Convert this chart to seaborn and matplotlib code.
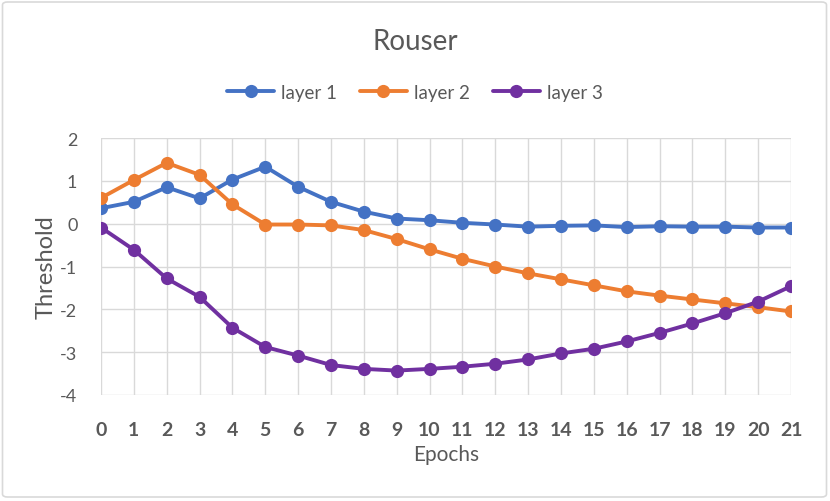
import matplotlib

matplotlib.use("Agg")

import matplotlib.pyplot as plt
import pandas as pd
import seaborn as sns
from matplotlib.patches import FancyBboxPatch

epochs = list(range(22))
layer_1 = [0.36, 0.51, 0.85, 0.59, 1.03, 1.33, 0.86, 0.51, 0.28, 0.12, 0.08,
           0.02, -0.02, -0.07, -0.05, -0.04, -0.08, -0.06, -0.07, -0.07, -0.09, -0.09]
layer_2 = [0.60, 1.02, 1.42, 1.14, 0.45, -0.02, -0.02, -0.04, -0.15, -0.36, -0.60,
           -0.82, -1.00, -1.16, -1.30, -1.44, -1.58, -1.68, -1.77, -1.86, -1.95, -2.05]
layer_3 = [-0.09, -0.61, -1.28, -1.71, -2.43, -2.88, -3.08, -3.30, -3.39, -3.43, -3.39,
           -3.34, -3.27, -3.17, -3.03, -2.92, -2.75, -2.55, -2.33, -2.09, -1.82, -1.46]
series_names = ["layer 1", "layer 2", "layer 3"]
colors = ["#4472C4", "#ED7D31", "#7030A0"]
text_color = "#595959"

df = pd.DataFrame({"Epochs": epochs, "layer 1": layer_1, "layer 2": layer_2, "layer 3": layer_3})
long_df = df.melt(id_vars="Epochs", var_name="Layer", value_name="Threshold")

sns.set_theme(style="white")
plt.rcParams["font.family"] = ["Lato", "DejaVu Sans"]
plt.rcParams["axes.unicode_minus"] = False

fig = plt.figure(figsize=(8.3, 5.02), dpi=100)
ax = fig.add_axes([101 / 830, 1 - 396 / 502, (791 - 101) / 830, (396 - 139) / 502])

sns.lineplot(
    data=long_df,
    x="Epochs",
    y="Threshold",
    hue="Layer",
    hue_order=series_names,
    palette=colors,
    marker="o",
    markersize=9.5,
    markeredgewidth=0,
    linewidth=2.8,
    ax=ax,
)

ax.set_xlim(0, 21)
ax.set_ylim(-4, 2)
ax.set_xticks(epochs)
ax.set_yticks(range(-4, 3))
ax.grid(True, color="#D9D9D9", linewidth=1)
ax.set_axisbelow(True)
for spine in ax.spines.values():
    spine.set_visible(False)
ax.tick_params(axis="both", length=0, labelcolor=text_color)
ax.tick_params(axis="x", pad=19, labelsize=14)
ax.tick_params(axis="y", pad=17, labelsize=13)
for lbl in ax.get_xticklabels():
    lbl.set_fontweight("bold")
ax.set_xlabel("Epochs", fontsize=15, color=text_color, va="center")
ax.xaxis.set_label_coords(0.5, -59 / 257)
ax.set_ylabel("Threshold", fontsize=17, color=text_color, va="center")
ax.yaxis.set_label_coords(-55 / 690, 0.5)

handles, labels = ax.get_legend_handles_labels()
leg = ax.legend(
    handles,
    labels,
    loc="center",
    ncol=3,
    frameon=False,
    fontsize=13.5,
    labelcolor=text_color,
    handlelength=2.5,
    columnspacing=1.2,
    handletextpad=0.4,
)
for h in leg.legend_handles:
    h.set_linewidth(2.8)
leg.set_bbox_to_anchor((0.5, 1 - 93 / 502), transform=fig.transFigure)

fig.text(0.5, 1 - 42 / 502, "Rouser", ha="center", va="center", fontsize=20, color=text_color)

fig.patches.append(
    FancyBboxPatch(
        (2.5 / 830, 4 / 502),
        824 / 830,
        495 / 502,
        boxstyle="round,pad=0,rounding_size=0.006",
        transform=fig.transFigure,
        facecolor="none",
        edgecolor="#D9D9D9",
        linewidth=1.2,
    )
)

fig.savefig("out.png", dpi=100)
